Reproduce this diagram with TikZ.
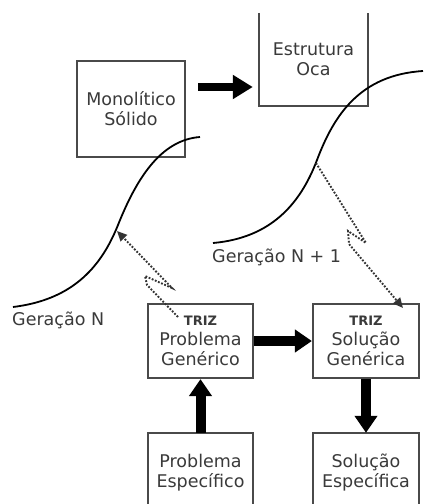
\documentclass[tikz,border=0pt]{standalone}
\usepackage{fontspec}
\setmainfont{DejaVu Sans}
\usetikzlibrary{arrows.meta,calc}
\definecolor{txt}{HTML}{3A3A3A}
\definecolor{boxc}{HTML}{4A4A4A}
\newcommand\mytrizfont{\bfseries\fontsize{13}{15}\selectfont}
\tikzset{
  every node/.style={font=\fontsize{17.5}{20}\selectfont, text=txt, inner sep=0pt},
  boxn/.style={draw=boxc, line width=2.2pt, align=center},
  openn/.style={align=center},
  boxline/.style={draw=boxc, line width=2.2pt},
  bigarrow/.style={line width=10pt, draw=black, -{Triangle[length=17pt,width=22pt]}},
  scurve/.style={draw=black, line width=1.8pt},
  dotarrow/.style={draw=black!80, line width=1.9pt, dash pattern=on 1.8pt off 1.6pt, -{Triangle[length=10pt,width=9pt]}}
}
\begin{document}
\begin{tikzpicture}[x=1pt,y=-1pt]
\useasboundingbox (0,0) rectangle (424,504);
\fill[white] (0,0) rectangle (424,504);

% boxes
\node[boxn, minimum width=108pt, minimum height=96pt] (mono) at (131,109) {Monolítico\\Sólido};
\node[openn, minimum width=109pt, minimum height=93pt] (est) at (313.5,59.5) {Estrutura\\Oca};
\draw[boxline] (est.north west) -- (est.south west) -- (est.south east) -- (est.north east);

\node[boxn, minimum width=105pt, minimum height=74pt] (pg) at (200.5,341) {{\mytrizfont TRIZ}\\Problema\\Genérico};
\node[boxn, minimum width=106pt, minimum height=74pt] (sg) at (366,341) {{\mytrizfont TRIZ}\\Solução\\Genérica};

\node[openn, minimum width=105pt, minimum height=80pt] (pe) at (200.5,473) {Problema\\Específico};
\node[openn, minimum width=106pt, minimum height=80pt] (se) at (366,473) {Solução\\Específica};
\draw[boxline] (pe.south west) -- (pe.north west) -- (pe.north east) -- (pe.south east);
\draw[boxline] (se.south west) -- (se.north west) -- (se.north east) -- (se.south east);

% labels
\node[anchor=west] (gn) at (12,320) {Geração N};
\node[anchor=west] (gn1) at (212,257) {Geração N + 1};

% S-curves
\draw[scurve] (13,307) .. controls (70,300) and (100,270) .. (118,225)
  .. controls (136,180) and (160,140) .. (200,137);
\draw[scurve] (213,243) .. controls (270,238) and (300,205) .. (317,160)
  .. controls (334,115) and (360,75) .. (423,71);

% thick arrows
\coordinate (a1) at ([xshift=12pt,yshift=22pt]mono.east);
\draw[bigarrow, line width=8pt, -{Triangle[length=20pt,width=23pt]}, shorten >=6pt] (a1) -- (a1 -| est.west);
\draw[bigarrow] (pg.east) -- (sg.west);
\draw[bigarrow] (pe.north) -- (pg.south);
\draw[bigarrow] (sg.south) -- (se.north);

% dotted arrows with break
\coordinate (d1s) at (178,317);
\coordinate (d1l) at (147,285);
\coordinate (d1w) at (145,276);
\coordinate (d1u) at (172,288);
\coordinate (d1e) at (117,231);
\draw[dotarrow] (d1s) -- (d1l) -- (d1w) -- (d1u) -- (d1e);

\coordinate (d2s) at (316,163);
\coordinate (d2u) at (366,243);
\coordinate (d2w) at (348,231);
\coordinate (d2l) at (349,244);
\coordinate (d2e) at (403,308);
\draw[dotarrow] (d2s) -- (d2u) -- (d2w) -- (d2l) -- (d2e);
\end{tikzpicture}
\end{document}
